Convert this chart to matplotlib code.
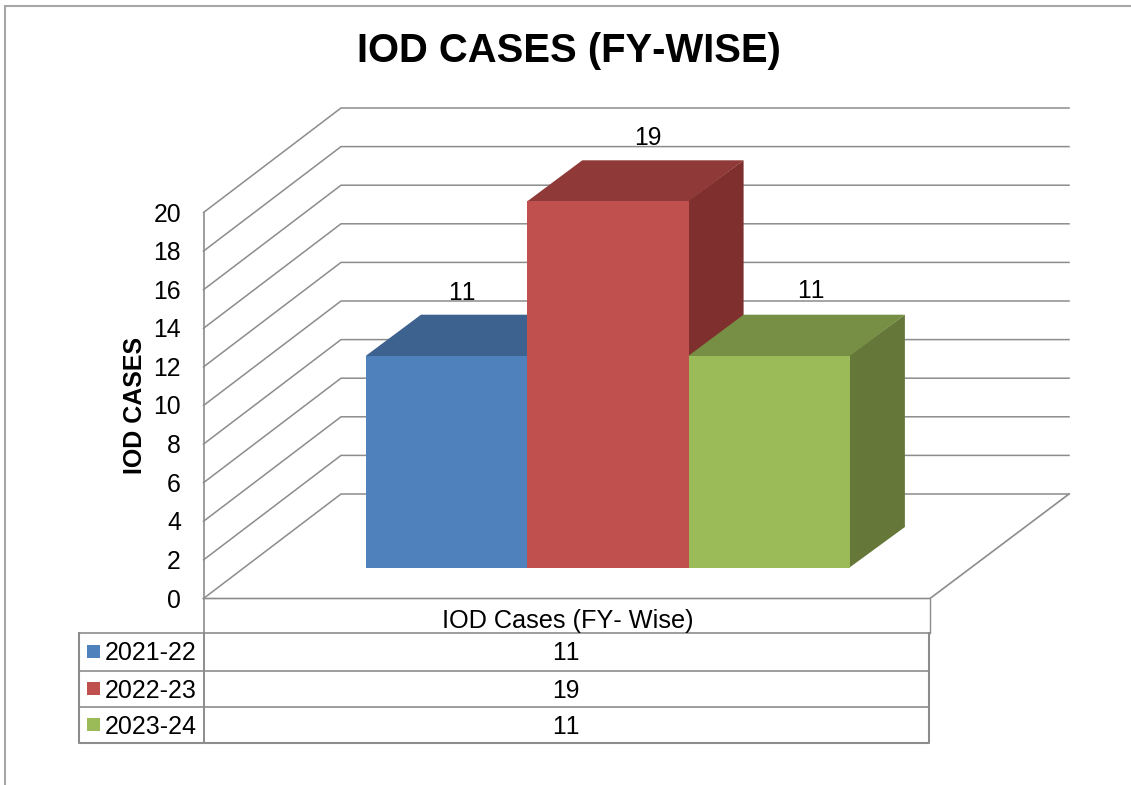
import matplotlib
matplotlib.use('Agg')
import matplotlib.pyplot as plt
from matplotlib.patches import Polygon, Rectangle

plt.rcParams['font.family'] = ['Liberation Sans', 'DejaVu Sans']
plt.rcParams['text.kerning_factor'] = 6

# data
years = ['2021-22', '2022-23', '2023-24']
cases = [11, 19, 11]
y_ticks = [0, 2, 4, 6, 8, 10, 12, 14, 16, 18, 20]
category = 'IOD Cases (FY- Wise)'
title = 'IOD CASES (FY-WISE)'
y_title = 'IOD CASES'

# colours: front, top, side
front_cols = ['#4F81BD', '#C0504D', '#9BBB59']
top_cols = ['#3E628F', '#8F3A38', '#778F45']
side_cols = ['#39587F', '#7F302E', '#65783A']
line_col = '#8C8C8C'

# 3d layout in pixels
W, H = 1131, 785
px_per_unit = 19.3
wall_x0, wall_x1, wall_x2 = 203.5, 341, 1069
floor_y = 598.5
wall_dy = 104.5
floor_right = 930
bar_x0 = 366
bar_w = 161.3
bar_base = 568
bar_dx, bar_dy = 55, 41
# label nudges from the bar centre, the original places them unevenly
label_dx = [15, 40, 42]
label_dy = [22, 22, 24]
row_text_dy = [1, 2, 3]


def val_y(v, base=floor_y):
    return base - v * px_per_unit


fig = plt.figure(figsize=(W / 100, H / 100), dpi=100)
ax = fig.add_axes([0, 0, 1, 1])
ax.set_xlim(0, W)
ax.set_ylim(H, 0)
ax.axis('off')

# outer chart border, only top and left are in view
ax.plot([5, 5, W], [H, 5.5, 5.5], color='#A6A6A6', lw=1.5, zorder=1, solid_joinstyle='miter')

# walls
for t in y_ticks:
    y = val_y(t)
    ax.plot([wall_x0, wall_x1, wall_x2], [y, y - wall_dy, y - wall_dy], color=line_col, lw=1.1, zorder=2)
ax.plot([wall_x0, wall_x0], [val_y(max(y_ticks)), 633], color=line_col, lw=1.2, zorder=2)

# floor
ax.plot([wall_x0, floor_right, wall_x2], [floor_y, floor_y, floor_y - wall_dy], color=line_col, lw=1.2, zorder=2)

# bars
for i, v in enumerate(cases):
    x0 = bar_x0 + i * bar_w
    x1 = x0 + bar_w
    top = val_y(v, bar_base)
    ax.add_patch(Polygon([(x1 - 1, bar_base), (x1 + bar_dx, bar_base - bar_dy), (x1 + bar_dx, top - bar_dy), (x1 - 1, top)],
                         facecolor=side_cols[i], edgecolor='none', zorder=3 + i))
    # top face runs a little under the front so no seam shows
    ax.add_patch(Polygon([(x0, top + 1), (x0, top), (x0 + bar_dx, top - bar_dy), (x1 + bar_dx, top - bar_dy), (x1, top), (x1, top + 1)],
                         facecolor=top_cols[i], edgecolor='none', zorder=3 + i))
    ax.add_patch(Rectangle((x0, top), bar_w, bar_base - top, facecolor=front_cols[i], edgecolor='none', zorder=3 + i))
    ax.text(x0 + bar_w / 2 + label_dx[i], top - bar_dy - label_dy[i], str(v), ha='center', va='center',
            fontsize=17.8, color='black', zorder=10)

# tick labels
for t in y_ticks:
    ax.text(181, val_y(t) + 2, str(t), ha='right', va='center', fontsize=17.8, color='black')

# titles
ax.text(568.5, 51, title, ha='center', va='center', fontsize=28.8, fontweight='bold', color='black')
ax.text(135.5, 405, y_title, ha='center', va='center', rotation=90, fontsize=18, fontweight='bold', color='black')

# data table
row_y = [633, 670.5, 706.5, 742.5]
ax.plot([79, 929.5], [row_y[0], row_y[0]], color=line_col, lw=1.2, zorder=2)
for y in row_y[1:-1]:
    ax.plot([79, 928], [y, y], color=line_col, lw=1.2, zorder=2)
ax.plot([79, 79, 928.5, 928.5], [row_y[0], row_y[-1], row_y[-1], row_y[0]],
        color=line_col, lw=1.5, zorder=2)
ax.plot([929.5, 929.5], [floor_y, row_y[0]], color=line_col, lw=1, zorder=2)
ax.plot([203.5, 203.5], [row_y[0], row_y[-1]], color=line_col, lw=1.4, zorder=2)

ax.text(567.5, 621, category, ha='center', va='center', fontsize=18.2, color='black')
for i, year in enumerate(years):
    yc = (row_y[i] + row_y[i + 1]) / 2
    ax.add_patch(Rectangle((87, yc - 6.5), 13, 13, facecolor=front_cols[i], edgecolor='none', zorder=3))
    ax.text(105, yc + row_text_dy[i], year, ha='left', va='center', fontsize=18, color='black')
    ax.text(566, yc + row_text_dy[i], str(cases[i]), ha='center', va='center', fontsize=17.8, color='black')

fig.savefig('out.png', dpi=100, facecolor='white')
